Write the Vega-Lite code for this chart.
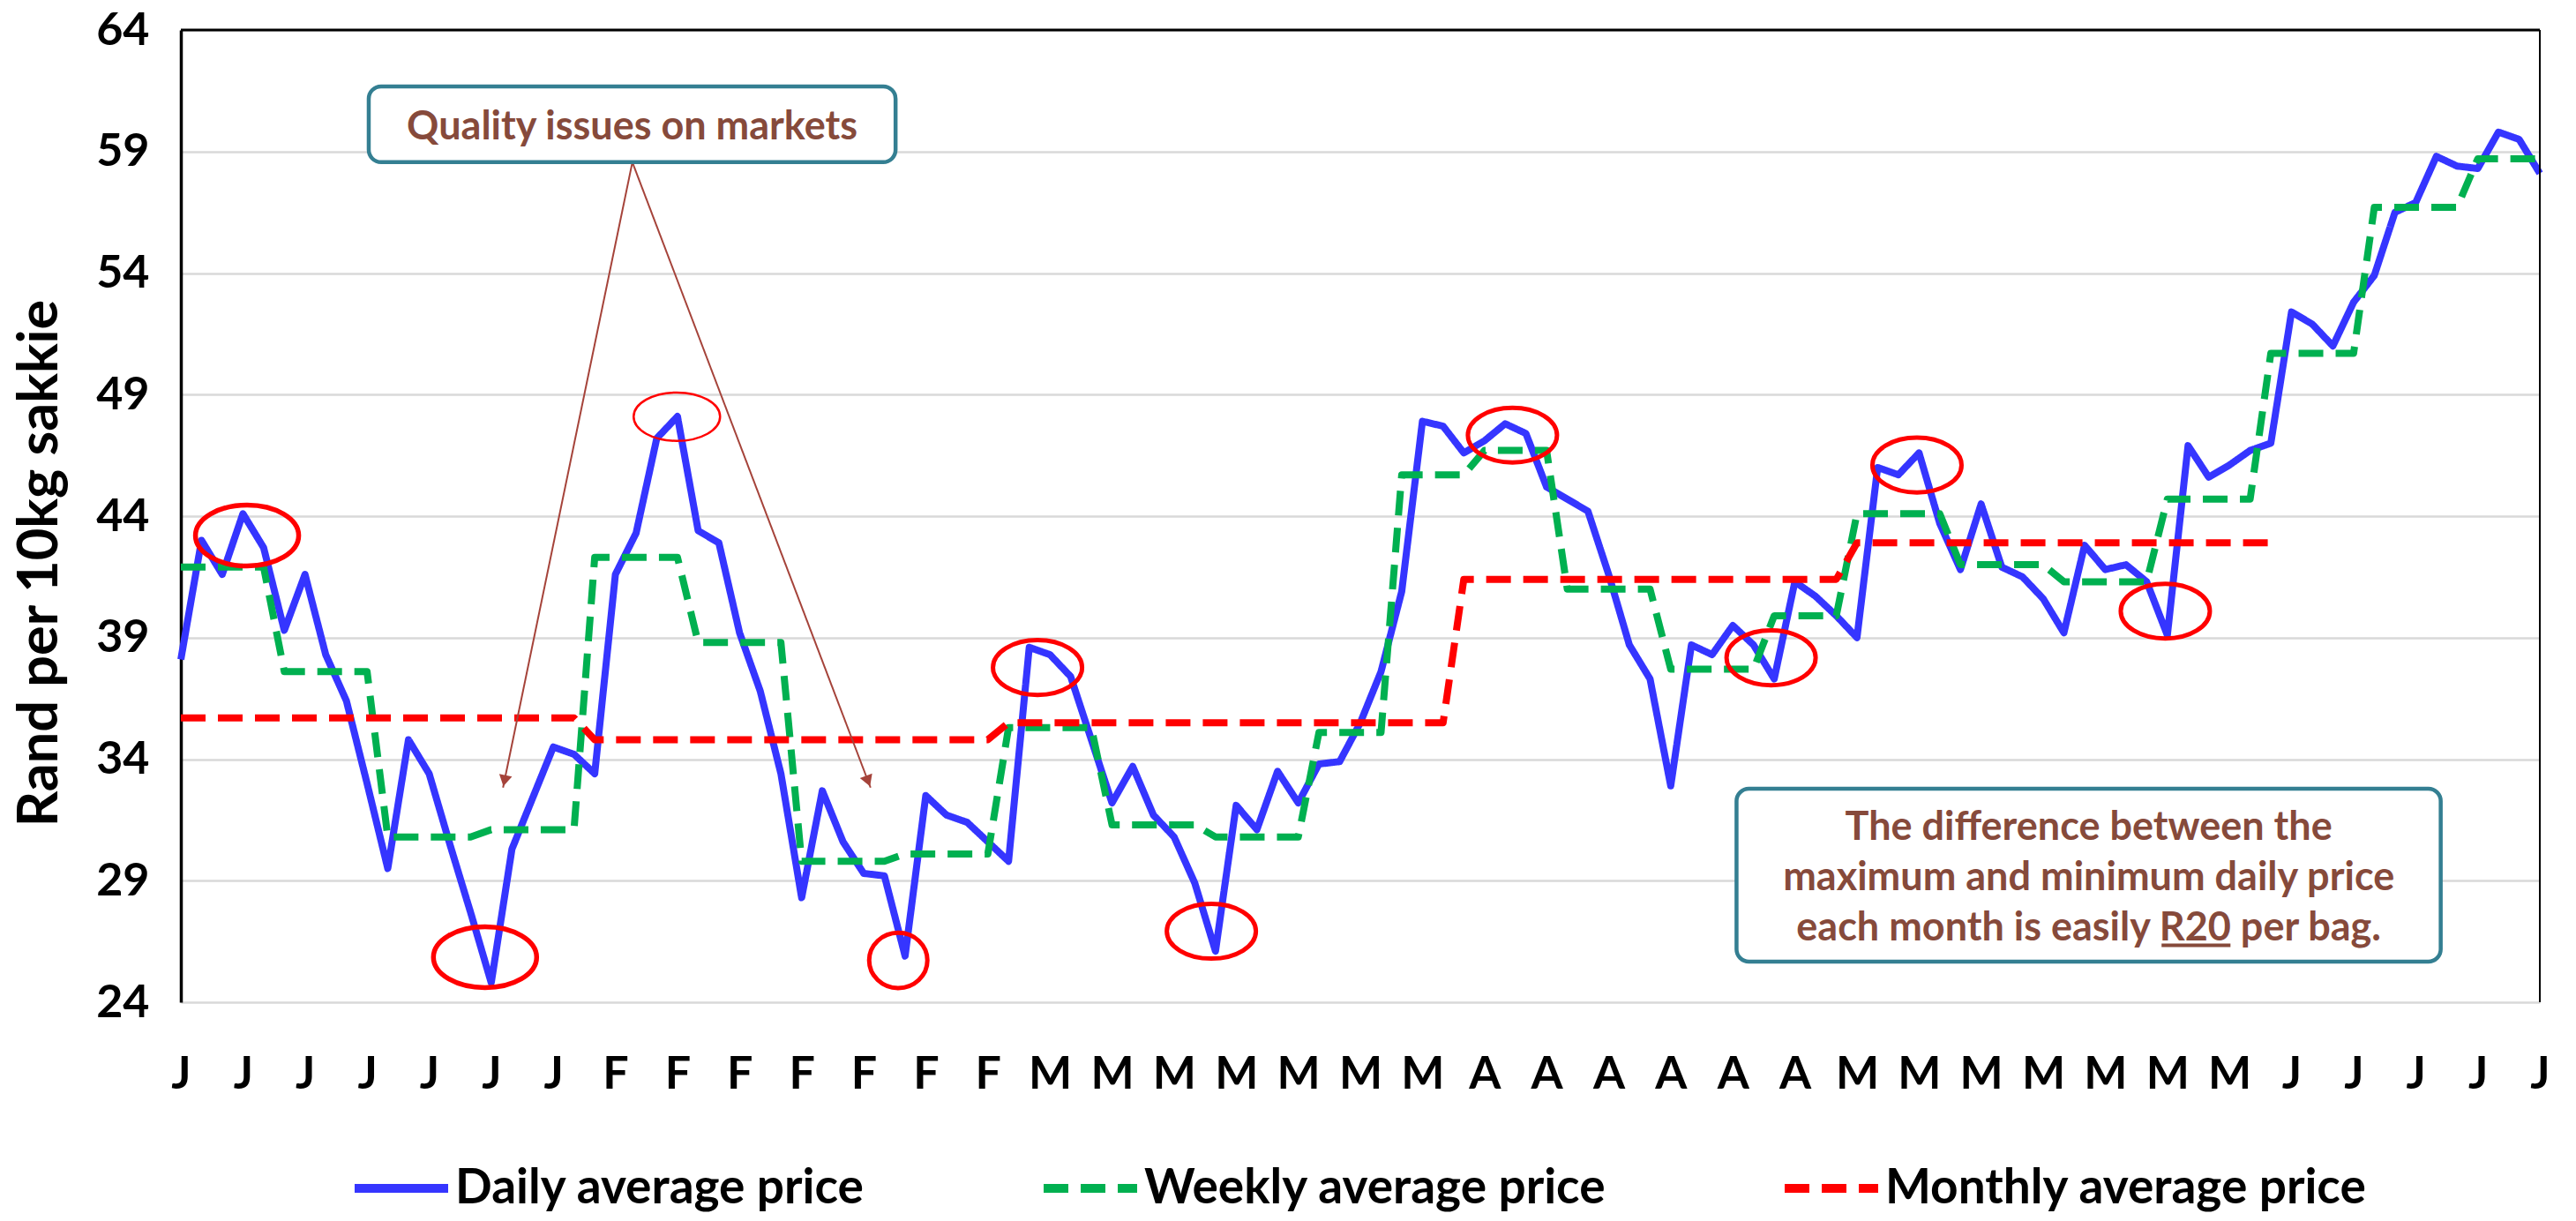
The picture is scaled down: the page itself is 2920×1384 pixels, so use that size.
{
  "$schema": "https://vega.github.io/schema/vega-lite/v6.json",
  "width": 2674,
  "height": 1102,
  "autosize": {"type": "none"},
  "padding": {"left": 205, "top": 34, "right": 41, "bottom": 248},
  "background": "white",
  "config": {"view": {"stroke": null}, "font": "Lato"},
  "datasets": {
    "prices": [
      {"day":0,"Daily average price":38.1,"Weekly average price":41.9,"Monthly average price":35.7},
      {"day":1,"Daily average price":43.0,"Weekly average price":41.9,"Monthly average price":35.7},
      {"day":2,"Daily average price":41.6,"Weekly average price":41.9,"Monthly average price":35.7},
      {"day":3,"Daily average price":44.1,"Weekly average price":41.9,"Monthly average price":35.7},
      {"day":4,"Daily average price":42.7,"Weekly average price":41.9,"Monthly average price":35.7},
      {"day":5,"Daily average price":39.3,"Weekly average price":37.6,"Monthly average price":35.7},
      {"day":6,"Daily average price":41.6,"Weekly average price":37.6,"Monthly average price":35.7},
      {"day":7,"Daily average price":38.3,"Weekly average price":37.6,"Monthly average price":35.7},
      {"day":8,"Daily average price":36.4,"Weekly average price":37.6,"Monthly average price":35.7},
      {"day":9,"Daily average price":33.0,"Weekly average price":37.6,"Monthly average price":35.7},
      {"day":10,"Daily average price":29.5,"Weekly average price":30.8,"Monthly average price":35.7},
      {"day":11,"Daily average price":34.8,"Weekly average price":30.8,"Monthly average price":35.7},
      {"day":12,"Daily average price":33.4,"Weekly average price":30.8,"Monthly average price":35.7},
      {"day":13,"Daily average price":30.5,"Weekly average price":30.8,"Monthly average price":35.7},
      {"day":14,"Daily average price":27.7,"Weekly average price":30.8,"Monthly average price":35.7},
      {"day":15,"Daily average price":24.8,"Weekly average price":31.1,"Monthly average price":35.7},
      {"day":16,"Daily average price":30.3,"Weekly average price":31.1,"Monthly average price":35.7},
      {"day":17,"Daily average price":32.4,"Weekly average price":31.1,"Monthly average price":35.7},
      {"day":18,"Daily average price":34.5,"Weekly average price":31.1,"Monthly average price":35.7},
      {"day":19,"Daily average price":34.2,"Weekly average price":31.1,"Monthly average price":35.7},
      {"day":20,"Daily average price":33.4,"Weekly average price":42.3,"Monthly average price":34.8},
      {"day":21,"Daily average price":41.6,"Weekly average price":42.3,"Monthly average price":34.8},
      {"day":22,"Daily average price":43.3,"Weekly average price":42.3,"Monthly average price":34.8},
      {"day":23,"Daily average price":47.2,"Weekly average price":42.3,"Monthly average price":34.8},
      {"day":24,"Daily average price":48.1,"Weekly average price":42.3,"Monthly average price":34.8},
      {"day":25,"Daily average price":43.4,"Weekly average price":38.8,"Monthly average price":34.8},
      {"day":26,"Daily average price":42.9,"Weekly average price":38.8,"Monthly average price":34.8},
      {"day":27,"Daily average price":39.2,"Weekly average price":38.8,"Monthly average price":34.8},
      {"day":28,"Daily average price":36.8,"Weekly average price":38.8,"Monthly average price":34.8},
      {"day":29,"Daily average price":33.4,"Weekly average price":38.8,"Monthly average price":34.8},
      {"day":30,"Daily average price":28.3,"Weekly average price":29.8,"Monthly average price":34.8},
      {"day":31,"Daily average price":32.7,"Weekly average price":29.8,"Monthly average price":34.8},
      {"day":32,"Daily average price":30.6,"Weekly average price":29.8,"Monthly average price":34.8},
      {"day":33,"Daily average price":29.3,"Weekly average price":29.8,"Monthly average price":34.8},
      {"day":34,"Daily average price":29.2,"Weekly average price":29.8,"Monthly average price":34.8},
      {"day":35,"Daily average price":25.9,"Weekly average price":30.1,"Monthly average price":34.8},
      {"day":36,"Daily average price":32.5,"Weekly average price":30.1,"Monthly average price":34.8},
      {"day":37,"Daily average price":31.7,"Weekly average price":30.1,"Monthly average price":34.8},
      {"day":38,"Daily average price":31.4,"Weekly average price":30.1,"Monthly average price":34.8},
      {"day":39,"Daily average price":30.6,"Weekly average price":30.1,"Monthly average price":34.8},
      {"day":40,"Daily average price":29.8,"Weekly average price":35.3,"Monthly average price":35.5},
      {"day":41,"Daily average price":38.6,"Weekly average price":35.3,"Monthly average price":35.5},
      {"day":42,"Daily average price":38.3,"Weekly average price":35.3,"Monthly average price":35.5},
      {"day":43,"Daily average price":37.4,"Weekly average price":35.3,"Monthly average price":35.5},
      {"day":44,"Daily average price":34.8,"Weekly average price":35.3,"Monthly average price":35.5},
      {"day":45,"Daily average price":32.2,"Weekly average price":31.3,"Monthly average price":35.5},
      {"day":46,"Daily average price":33.7,"Weekly average price":31.3,"Monthly average price":35.5},
      {"day":47,"Daily average price":31.7,"Weekly average price":31.3,"Monthly average price":35.5},
      {"day":48,"Daily average price":30.8,"Weekly average price":31.3,"Monthly average price":35.5},
      {"day":49,"Daily average price":28.9,"Weekly average price":31.3,"Monthly average price":35.5},
      {"day":50,"Daily average price":26.1,"Weekly average price":30.8,"Monthly average price":35.5},
      {"day":51,"Daily average price":32.1,"Weekly average price":30.8,"Monthly average price":35.5},
      {"day":52,"Daily average price":31.1,"Weekly average price":30.8,"Monthly average price":35.5},
      {"day":53,"Daily average price":33.5,"Weekly average price":30.8,"Monthly average price":35.5},
      {"day":54,"Daily average price":32.2,"Weekly average price":30.8,"Monthly average price":35.5},
      {"day":55,"Daily average price":33.8,"Weekly average price":35.1,"Monthly average price":35.5},
      {"day":56,"Daily average price":33.9,"Weekly average price":35.1,"Monthly average price":35.5},
      {"day":57,"Daily average price":35.5,"Weekly average price":35.1,"Monthly average price":35.5},
      {"day":58,"Daily average price":37.6,"Weekly average price":35.1,"Monthly average price":35.5},
      {"day":59,"Daily average price":40.9,"Weekly average price":45.7,"Monthly average price":35.5},
      {"day":60,"Daily average price":47.9,"Weekly average price":45.7,"Monthly average price":35.5},
      {"day":61,"Daily average price":47.7,"Weekly average price":45.7,"Monthly average price":35.5},
      {"day":62,"Daily average price":46.6,"Weekly average price":45.7,"Monthly average price":41.4},
      {"day":63,"Daily average price":47.1,"Weekly average price":46.7,"Monthly average price":41.4},
      {"day":64,"Daily average price":47.8,"Weekly average price":46.7,"Monthly average price":41.4},
      {"day":65,"Daily average price":47.4,"Weekly average price":46.7,"Monthly average price":41.4},
      {"day":66,"Daily average price":45.2,"Weekly average price":46.7,"Monthly average price":41.4},
      {"day":67,"Daily average price":44.7,"Weekly average price":41.0,"Monthly average price":41.4},
      {"day":68,"Daily average price":44.2,"Weekly average price":41.0,"Monthly average price":41.4},
      {"day":69,"Daily average price":41.6,"Weekly average price":41.0,"Monthly average price":41.4},
      {"day":70,"Daily average price":38.7,"Weekly average price":41.0,"Monthly average price":41.4},
      {"day":71,"Daily average price":37.3,"Weekly average price":41.0,"Monthly average price":41.4},
      {"day":72,"Daily average price":32.9,"Weekly average price":37.7,"Monthly average price":41.4},
      {"day":73,"Daily average price":38.7,"Weekly average price":37.7,"Monthly average price":41.4},
      {"day":74,"Daily average price":38.3,"Weekly average price":37.7,"Monthly average price":41.4},
      {"day":75,"Daily average price":39.5,"Weekly average price":37.7,"Monthly average price":41.4},
      {"day":76,"Daily average price":38.7,"Weekly average price":37.7,"Monthly average price":41.4},
      {"day":77,"Daily average price":37.3,"Weekly average price":39.9,"Monthly average price":41.4},
      {"day":78,"Daily average price":41.3,"Weekly average price":39.9,"Monthly average price":41.4},
      {"day":79,"Daily average price":40.7,"Weekly average price":39.9,"Monthly average price":41.4},
      {"day":80,"Daily average price":39.9,"Weekly average price":39.9,"Monthly average price":41.4},
      {"day":81,"Daily average price":39.0,"Weekly average price":44.1,"Monthly average price":42.9},
      {"day":82,"Daily average price":46.0,"Weekly average price":44.1,"Monthly average price":42.9},
      {"day":83,"Daily average price":45.7,"Weekly average price":44.1,"Monthly average price":42.9},
      {"day":84,"Daily average price":46.6,"Weekly average price":44.1,"Monthly average price":42.9},
      {"day":85,"Daily average price":43.7,"Weekly average price":44.1,"Monthly average price":42.9},
      {"day":86,"Daily average price":41.8,"Weekly average price":42.0,"Monthly average price":42.9},
      {"day":87,"Daily average price":44.5,"Weekly average price":42.0,"Monthly average price":42.9},
      {"day":88,"Daily average price":41.9,"Weekly average price":42.0,"Monthly average price":42.9},
      {"day":89,"Daily average price":41.5,"Weekly average price":42.0,"Monthly average price":42.9},
      {"day":90,"Daily average price":40.6,"Weekly average price":42.0,"Monthly average price":42.9},
      {"day":91,"Daily average price":39.2,"Weekly average price":41.3,"Monthly average price":42.9},
      {"day":92,"Daily average price":42.8,"Weekly average price":41.3,"Monthly average price":42.9},
      {"day":93,"Daily average price":41.8,"Weekly average price":41.3,"Monthly average price":42.9},
      {"day":94,"Daily average price":42.0,"Weekly average price":41.3,"Monthly average price":42.9},
      {"day":95,"Daily average price":41.3,"Weekly average price":41.3,"Monthly average price":42.9},
      {"day":96,"Daily average price":39.1,"Weekly average price":44.7,"Monthly average price":42.9},
      {"day":97,"Daily average price":46.9,"Weekly average price":44.7,"Monthly average price":42.9},
      {"day":98,"Daily average price":45.6,"Weekly average price":44.7,"Monthly average price":42.9},
      {"day":99,"Daily average price":46.1,"Weekly average price":44.7,"Monthly average price":42.9},
      {"day":100,"Daily average price":46.7,"Weekly average price":44.7,"Monthly average price":42.9},
      {"day":101,"Daily average price":47.0,"Weekly average price":50.7,"Monthly average price":42.9},
      {"day":102,"Daily average price":52.4,"Weekly average price":50.7,"Monthly average price":null},
      {"day":103,"Daily average price":51.9,"Weekly average price":50.7,"Monthly average price":null},
      {"day":104,"Daily average price":51.0,"Weekly average price":50.7,"Monthly average price":null},
      {"day":105,"Daily average price":52.8,"Weekly average price":50.7,"Monthly average price":null},
      {"day":106,"Daily average price":53.9,"Weekly average price":56.7,"Monthly average price":null},
      {"day":107,"Daily average price":56.5,"Weekly average price":56.7,"Monthly average price":null},
      {"day":108,"Daily average price":56.9,"Weekly average price":56.7,"Monthly average price":null},
      {"day":109,"Daily average price":58.8,"Weekly average price":56.7,"Monthly average price":null},
      {"day":110,"Daily average price":58.4,"Weekly average price":56.7,"Monthly average price":null},
      {"day":111,"Daily average price":58.3,"Weekly average price":58.7,"Monthly average price":null},
      {"day":112,"Daily average price":59.8,"Weekly average price":58.7,"Monthly average price":null},
      {"day":113,"Daily average price":59.5,"Weekly average price":58.7,"Monthly average price":null},
      {"day":114,"Daily average price":58.1,"Weekly average price":58.7,"Monthly average price":null}
    ],
    "ellipsesStd": [
      {"day":41.4,"price":37.77},
      {"day":49.8,"price":26.92},
      {"day":64.35,"price":47.33},
      {"day":76.85,"price":38.17},
      {"day":83.9,"price":46.1},
      {"day":95.9,"price":40.09}
    ],
    "ellipsesLarge": [
      {"day":3.2,"price":43.2},
      {"day":14.7,"price":25.85}
    ],
    "ellipseThin": [{"day":23.97,"price":48.09}],
    "circleSmall": [{"day":34.67,"price":25.72}],
    "boxes": [
      {"day":9.08,"day2":34.54,"price":61.68,"price2":58.56},
      {"day":75.18,"day2":109.21,"price":32.78,"price2":25.67}
    ],
    "notes": [
      {"day":21.81,"price":59.5,"label":"Quality issues on markets"},
      {"day":92.2,"price":30.69,"label":"The difference between the\nmaximum and minimum daily price\neach month is easily R20 per bag."}
    ],
    "arrows": [
      {"day":21.82,"price":58.56,"day2":15.57,"price2":32.83},
      {"day":21.82,"price":58.56,"day2":33.33,"price2":32.83}
    ]
  },
  "layer": [
    {
      "data": {"name": "prices"},
      "transform": [
        {"fold": ["Daily average price", "Weekly average price", "Monthly average price"], "as": ["series", "price"]}
      ],
      "mark": {"type": "line", "strokeWidth": 8, "strokeJoin": "round"},
      "encoding": {
        "x": {
          "field": "day", "type": "quantitative",
          "scale": {"domain": [0, 114], "nice": false, "zero": false},
          "axis": {
            "title": null, "domain": false, "ticks": false, "grid": false,
            "values": [0,3,6,9,12,15,18,21,24,27,30,33,36,39,42,45,48,51,54,57,60,63,66,69,72,75,78,81,84,87,90,93,96,99,102,105,108,111,114],
            "labelExpr": "['J','J','J','J','J','J','J','F','F','F','F','F','F','F','M','M','M','M','M','M','M','A','A','A','A','A','A','M','M','M','M','M','M','M','J','J','J','J','J'][round(datum.value/3)]",
            "labelFont": "Lato", "labelFontSize": 52, "labelFontWeight": "bold", "labelColor": "black",
            "labelPadding": 56, "labelAngle": 0, "labelFlush": false, "labelOverlap": false
          }
        },
        "y": {
          "field": "price", "type": "quantitative",
          "scale": {"domain": [24, 64], "nice": false, "zero": false},
          "axis": {
            "title": "Rand per 10kg sakkie",
            "values": [24,29,34,39,44,49,54,59,64],
            "labelFont": "Lato", "labelFontSize": 52, "labelFontWeight": "bold", "labelColor": "black",
            "labelPadding": 36, "ticks": false,
            "domain": true, "domainColor": "black", "domainWidth": 3.5,
            "grid": true, "gridColor": "#d9d9d9", "gridWidth": 2.5,
            "titleFont": "Lato", "titleFontSize": 63, "titleFontWeight": "bold", "titleColor": "black",
            "titleAngle": -90, "titleX": -160, "titleY": 604, "titleAlign": "center", "titleBaseline": "middle"
          }
        },
        "color": {
          "field": "series", "type": "nominal",
          "scale": {"domain": ["Daily average price", "Weekly average price", "Monthly average price"], "range": ["#3535FF", "#00B050", "#FF0000"]},
          "legend": {
            "title": null, "orient": "none", "legendX": 192, "legendY": 1255, "direction": "horizontal",
            "symbolType": "stroke", "symbolSize": 11236, "symbolStrokeWidth": 10,
            "labelFont": "Lato", "labelFontSize": 55, "labelFontWeight": "bold", "labelColor": "black",
            "labelOffset": 3, "columnPadding": 182, "labelLimit": 1000
          }
        },
        "strokeDash": {
          "field": "series", "type": "nominal",
          "scale": {"domain": ["Daily average price", "Weekly average price", "Monthly average price"], "range": [[1, 0], [28, 14], [28, 14]]},
          "legend": {
            "title": null, "orient": "none", "legendX": 192, "legendY": 1255, "direction": "horizontal",
            "symbolType": "stroke", "symbolSize": 11236, "symbolStrokeWidth": 10,
            "labelFont": "Lato", "labelFontSize": 55, "labelFontWeight": "bold", "labelColor": "black",
            "labelOffset": 3, "columnPadding": 182, "labelLimit": 1000
          }
        },
        "detail": {"field": "series"}
      }
    },
    {
      "data": {"values": [{}]},
      "mark": {"type": "rule", "color": "black", "strokeWidth": 3},
      "encoding": {"y": {"datum": 64}}
    },
    {
      "data": {"values": [{}]},
      "mark": {"type": "rule", "color": "black", "strokeWidth": 2},
      "encoding": {"x": {"datum": 114}}
    },
    {
      "data": {"name": "ellipsesStd"},
      "mark": {"type": "point", "shape": "M-1,0C-1,-0.34,-0.552,-0.615,0,-0.615C0.552,-0.615,1,-0.34,1,0C1,0.34,0.552,0.615,0,0.615C-0.552,0.615,-1,0.34,-1,0Z", "size": 10201, "filled": false, "stroke": "#FF0000", "strokeWidth": 5, "opacity": 1},
      "encoding": {"x": {"field": "day", "type": "quantitative"}, "y": {"field": "price", "type": "quantitative"}}
    },
    {
      "data": {"name": "ellipsesLarge"},
      "mark": {"type": "point", "shape": "M-1,0C-1,-0.326,-0.552,-0.59,0,-0.59C0.552,-0.59,1,-0.326,1,0C1,0.326,0.552,0.59,0,0.59C-0.552,0.59,-1,0.326,-1,0Z", "size": 13689, "filled": false, "stroke": "#FF0000", "strokeWidth": 5.5, "opacity": 1},
      "encoding": {"x": {"field": "day", "type": "quantitative"}, "y": {"field": "price", "type": "quantitative"}}
    },
    {
      "data": {"name": "ellipseThin"},
      "mark": {"type": "point", "shape": "M-1,0C-1,-0.309,-0.552,-0.56,0,-0.56C0.552,-0.56,1,-0.309,1,0C1,0.309,0.552,0.56,0,0.56C-0.552,0.56,-1,0.309,-1,0Z", "size": 9604, "filled": false, "stroke": "#FF0000", "strokeWidth": 2.5, "opacity": 1},
      "encoding": {"x": {"field": "day", "type": "quantitative"}, "y": {"field": "price", "type": "quantitative"}}
    },
    {
      "data": {"name": "circleSmall"},
      "mark": {"type": "point", "shape": "M-1,0C-1,-0.525,-0.552,-0.95,0,-0.95C0.552,-0.95,1,-0.525,1,0C1,0.525,0.552,0.95,0,0.95C-0.552,0.95,-1,0.525,-1,0Z", "size": 4356, "filled": false, "stroke": "#FF0000", "strokeWidth": 5, "opacity": 1},
      "encoding": {"x": {"field": "day", "type": "quantitative"}, "y": {"field": "price", "type": "quantitative"}}
    },
    {
      "data": {"name": "arrows"},
      "mark": {"type": "rule", "color": "#A5433A", "strokeWidth": 2},
      "encoding": {
        "x": {"field": "day", "type": "quantitative"}, "y": {"field": "price", "type": "quantitative"},
        "x2": {"field": "day2"}, "y2": {"field": "price2"}
      }
    },
    {
      "data": {"values": [{"day": 15.64, "price": 33.11}]},
      "mark": {"type": "point", "shape": "triangle-down", "size": 220, "filled": true, "color": "#A5433A", "opacity": 1, "angle": 11.7},
      "encoding": {"x": {"field": "day", "type": "quantitative"}, "y": {"field": "price", "type": "quantitative"}}
    },
    {
      "data": {"values": [{"day": 33.21, "price": 33.10}]},
      "mark": {"type": "point", "shape": "triangle-down", "size": 220, "filled": true, "color": "#A5433A", "opacity": 1, "angle": 339.2},
      "encoding": {"x": {"field": "day", "type": "quantitative"}, "y": {"field": "price", "type": "quantitative"}}
    },
    {
      "data": {"name": "boxes"},
      "mark": {"type": "rect", "fill": "white", "stroke": "#347F92", "strokeWidth": 4.5, "cornerRadius": 14},
      "encoding": {
        "x": {"field": "day", "type": "quantitative"}, "x2": {"field": "day2"},
        "y": {"field": "price", "type": "quantitative"}, "y2": {"field": "price2"}
      }
    },
    {
      "data": {"name": "notes"},
      "mark": {"type": "text", "font": "Lato", "fontSize": 45, "fontWeight": "bold", "color": "#864A3B", "align": "center", "baseline": "alphabetic", "lineBreak": "\n", "lineHeight": 57},
      "encoding": {
        "x": {"field": "day", "type": "quantitative"}, "y": {"field": "price", "type": "quantitative"},
        "text": {"field": "label"}
      }
    },
    {
      "data": {"values": [{"day": 95.72, "day2": 99.05, "price": 26.34}]},
      "mark": {"type": "rule", "color": "#864A3B", "strokeWidth": 4},
      "encoding": {
        "x": {"field": "day", "type": "quantitative"}, "x2": {"field": "day2"},
        "y": {"field": "price", "type": "quantitative"}
      }
    }
  ]
}
